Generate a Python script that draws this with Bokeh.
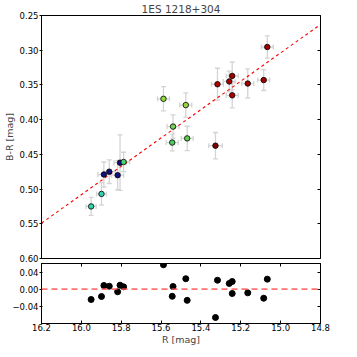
from bokeh.plotting import figure
from bokeh.layouts import column
from bokeh.models import (Range1d, LinearAxis, FixedTicker, PrintfTickFormatter,
                          CustomJSTickFormatter, Whisker, ColumnDataSource, Span, TeeHead)
from bokeh.embed import file_html
from bokeh.resources import INLINE

title_text = "1ES 1218+304"
x_label = "R [mag]"
y_label = "B-R [mag]"

R_mag = [15.951, 15.899, 15.887, 15.860, 15.818, 15.806, 15.788,
         15.588, 15.476, 15.540, 15.544, 15.469,
         15.327, 15.067, 15.243, 15.258, 15.317, 15.165, 15.085, 15.243]
R_err = [0.025, 0.025, 0.03, 0.03, 0.03, 0.03, 0.03,
         0.03, 0.03, 0.03, 0.03, 0.03,
         0.034, 0.03, 0.03, 0.03, 0.03, 0.03, 0.03, 0.03]
BR_mag = [0.525, 0.507, 0.479, 0.475, 0.480, 0.462, 0.461,
          0.370, 0.379, 0.410, 0.433, 0.427,
          0.4375, 0.2954, 0.337, 0.345, 0.349, 0.348, 0.343, 0.365]
BR_err = [0.013, 0.016, 0.018, 0.017, 0.021, 0.040, 0.014,
          0.0175, 0.0175, 0.017, 0.012, 0.0175,
          0.019, 0.016, 0.020, 0.015, 0.023, 0.021, 0.015, 0.018]
residual = [-0.024, -0.017, 0.0087, 0.007, -0.006, 0.0094, 0.0056,
            0.057, 0.0245, 0.0063, -0.0165, -0.026,
            -0.066, 0.0235, 0.018, 0.0134, 0.021, -0.0085, -0.021, -0.010]
point_colors = ["#30d0a8", "#30d0b0", "#101080", "#101080", "#101080", "#101080", "#50d070",
                "#90d840", "#98d840", "#70d050", "#50c860", "#60cc50",
                "#800000", "#a00000", "#a00000", "#a80000", "#b00000", "#a00000", "#a00000", "#a80000"]
fit_intercept = -2.7607
fit_slope = 0.2043
fit_R = [16.2, 14.8]
fit_BR = [fit_intercept + fit_slope * r for r in fit_R]

x_ticks = [16.2, 16.0, 15.8, 15.6, 15.4, 15.2, 15.0, 14.8]
y_ticks = [0.25, 0.30, 0.35, 0.40, 0.45, 0.50, 0.55, 0.60]
res_ticks = [-0.04, 0.0, 0.04]

FONT = "DejaVu Sans"
TICK_FS = "8.5px"
LAB_FS = "9.5px"

lo = [r - e for r, e in zip(R_mag, R_err)]
hi = [r + e for r, e in zip(R_mag, R_err)]
blo = [b - e for b, e in zip(BR_mag, BR_err)]
bhi = [b + e for b, e in zip(BR_mag, BR_err)]
src = ColumnDataSource(dict(R=R_mag, BR=BR_mag, c=point_colors, lo=lo, hi=hi,
                            blo=blo, bhi=bhi, res=residual))

EMPTY = CustomJSTickFormatter(code="return '';")

def style_axis(ax, labels=True, tin=0, tout=3):
    ax.major_tick_in = tin
    ax.major_tick_out = tout
    ax.minor_tick_line_color = None
    ax.axis_line_color = "black"
    ax.major_tick_line_color = "black"
    ax.major_label_text_font = FONT
    ax.major_label_text_font_size = TICK_FS
    ax.major_label_text_color = "black"
    ax.major_label_standoff = 1 if labels else 0
    ax.axis_label_text_font = FONT
    ax.axis_label_text_font_size = LAB_FS
    ax.axis_label_text_font_style = "normal"
    ax.axis_label_standoff = 1
    if not labels:
        ax.formatter = EMPTY

LB = 41
FW = 279
W = LB + FW + 12
p1 = figure(width=W, height=263, output_backend="svg", toolbar_location=None,
            x_range=Range1d(16.2, 14.8), y_range=Range1d(0.60, 0.25),
            x_axis_location=None,
            min_border_left=LB, min_border_right=12, min_border_top=0, min_border_bottom=5,
            title=title_text)
p1.title.text_font = FONT
p1.title.text_font_size = "10.5px"
p1.title.text_font_style = "normal"
p1.title.align = "center"
p1.title.standoff = 1
p1.grid.visible = False
p1.outline_line_color = "black"
p1.yaxis.ticker = FixedTicker(ticks=y_ticks)
p1.yaxis.formatter = PrintfTickFormatter(format="%.2f")
p1.yaxis.axis_label = y_label
style_axis(p1.yaxis[0], True, 1, 2)
p1.yaxis.axis_label_standoff = 2
ry = LinearAxis(ticker=FixedTicker(ticks=y_ticks))
style_axis(ry, False, 3, 0)
p1.add_layout(ry, "right")

ecol = "#d4d4d4"
wy = Whisker(source=src, base="R", lower="blo", upper="bhi", dimension="height",
             line_color=ecol, line_width=1.3, level="underlay",
             upper_head=TeeHead(size=5, line_color=ecol, line_width=1.3),
             lower_head=TeeHead(size=5, line_color=ecol, line_width=1.3))
wx = Whisker(source=src, base="BR", lower="lo", upper="hi", dimension="width",
             line_color=ecol, line_width=1.3, level="underlay",
             upper_head=TeeHead(size=5, line_color=ecol, line_width=1.3),
             lower_head=TeeHead(size=5, line_color=ecol, line_width=1.3))
p1.add_layout(wy)
p1.add_layout(wx)
p1.line(fit_R, fit_BR, line_color="red", line_dash="3 3", line_width=1.1)
p1.scatter("R", "BR", source=src, size=5.5, fill_color="c", line_color="black", line_width=0.8)

p2 = figure(width=W, height=84, output_backend="svg", toolbar_location=None,
            x_range=p1.x_range, y_range=Range1d(-0.08, 0.06),
            min_border_left=LB, min_border_right=12, min_border_top=0, min_border_bottom=0)
p2.grid.visible = False
p2.outline_line_color = "black"
p2.xaxis.ticker = FixedTicker(ticks=x_ticks)
p2.xaxis.formatter = PrintfTickFormatter(format="%.1f")
p2.xaxis.axis_label = x_label
style_axis(p2.xaxis[0], True, 3, 0)
p2.xaxis.major_label_standoff = 0
p2.xaxis.axis_label_standoff = 0
p2.yaxis.ticker = FixedTicker(ticks=res_ticks)
p2.yaxis.formatter = CustomJSTickFormatter(
    code="return (tick < -1e-9 ? '\u2212' : '') + Math.abs(tick).toFixed(2);")
style_axis(p2.yaxis[0], True, 1, 2)
tx = LinearAxis(ticker=FixedTicker(ticks=x_ticks))
style_axis(tx, False, 3, 0)
p2.add_layout(tx, "above")
ry2 = LinearAxis(ticker=FixedTicker(ticks=res_ticks))
style_axis(ry2, False, 3, 0)
p2.add_layout(ry2, "right")
p2.add_layout(Span(location=0, dimension="width", line_color="#ff5050", line_alpha=0.8,
                   line_dash="6 4", line_width=1.8))
p2.scatter("R", "res", source=src, size=6, fill_color="black", line_color="black")

layout = column(p1, p2, spacing=0)
open("out.html", "w").write(file_html(layout, INLINE))
